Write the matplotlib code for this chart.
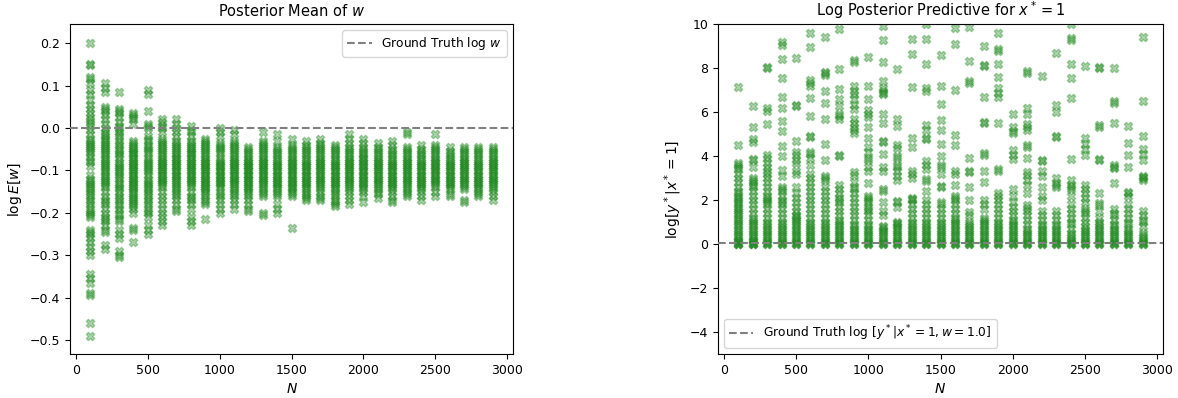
import matplotlib
matplotlib.use("Agg")
import matplotlib.pyplot as plt
import numpy as np

# ---------------- data ----------------
N_values = [100, 200, 300, 400, 500, 600, 700, 800, 900, 1000, 1100, 1200, 1300, 1400,
            1500, 1600, 1700, 1800, 1900, 2000, 2100, 2200, 2300, 2400, 2500, 2600,
            2700, 2800, 2900]

# log E[w] samples per N
w100 = [0.20, 0.15, 0.148, 0.12, 0.115, 0.105, 0.09, 0.08, 0.065, 0.055, 0.045, 0.035, 0.025, 0.018, 0.012, 0.005,
        -0.005, -0.015, -0.025, -0.03, -0.035, -0.04, -0.045, -0.05, -0.055, -0.06, -0.068, -0.075, -0.08, -0.09,
        -0.11, -0.12, -0.125, -0.13, -0.135, -0.14, -0.145, -0.15, -0.155, -0.16, -0.17, -0.175, -0.18, -0.19,
        -0.195, -0.2, -0.205, -0.21, -0.24, -0.245, -0.25, -0.26, -0.27, -0.28, -0.29, -0.3, -0.345, -0.355,
        -0.365, -0.39, -0.395, -0.46, -0.49]
w200 = [0.105, 0.095, 0.085, 0.05, 0.045, 0.04, 0.03, 0.02, 0.01, 0.0, -0.01, -0.015, -0.02, -0.025, -0.03, -0.035,
        -0.04, -0.045, -0.05, -0.055, -0.06, -0.065, -0.07, -0.075, -0.08, -0.085, -0.09, -0.095, -0.1, -0.105,
        -0.11, -0.115, -0.12, -0.125, -0.13, -0.135, -0.14, -0.15, -0.16, -0.17, -0.175, -0.18, -0.19, -0.2,
        -0.21, -0.215, -0.22, -0.23, -0.24, -0.245, -0.275, -0.285]
w300 = [0.085, 0.045, 0.04, 0.035, 0.025, 0.015, 0.005, 0.0, -0.01, -0.015, -0.02, -0.03, -0.035, -0.04, -0.05,
        -0.055, -0.06, -0.065, -0.07, -0.08, -0.085, -0.09, -0.095, -0.1, -0.105, -0.11, -0.115, -0.12, -0.13,
        -0.135, -0.14, -0.145, -0.15, -0.16, -0.165, -0.17, -0.18, -0.185, -0.19, -0.2, -0.205, -0.215, -0.22,
        -0.24, -0.25, -0.26, -0.29, -0.3, -0.305]
w400 = [0.035, 0.03, 0.025, 0.02, 0.01, -0.03, -0.035, -0.04, -0.045, -0.05, -0.055, -0.06, -0.065, -0.07, -0.075,
        -0.08, -0.085, -0.09, -0.095, -0.1, -0.105, -0.11, -0.115, -0.12, -0.125, -0.13, -0.135, -0.14, -0.145,
        -0.15, -0.155, -0.16, -0.165, -0.17, -0.175, -0.18, -0.185, -0.19, -0.2, -0.235, -0.24, -0.27, -0.06,
        -0.08, -0.1, -0.12, -0.14]
w500 = [0.09, 0.08, 0.04, 0.01, 0.005, 0.0, -0.02, -0.025, -0.03, -0.04, -0.045, -0.05, -0.055, -0.06, -0.07,
        -0.075, -0.08, -0.085, -0.09, -0.095, -0.1, -0.105, -0.11, -0.12, -0.125, -0.13, -0.135, -0.14, -0.145,
        -0.15, -0.155, -0.16, -0.17, -0.175, -0.18, -0.19, -0.195, -0.2, -0.21, -0.23, -0.24, -0.25]
w600 = [0.02, 0.015, 0.005, 0.0, -0.01, -0.025, -0.03, -0.035, -0.04, -0.045, -0.05, -0.055, -0.06, -0.065, -0.07,
        -0.075, -0.08, -0.085, -0.09, -0.095, -0.1, -0.105, -0.11, -0.115, -0.12, -0.125, -0.13, -0.135, -0.14,
        -0.15, -0.16, -0.17, -0.18, -0.19, -0.2, -0.21, -0.22, -0.23, -0.08, -0.1, -0.12]
w700 = [0.02, 0.01, 0.0, -0.01, -0.02, -0.03, -0.035, -0.04, -0.045, -0.05, -0.055, -0.06, -0.065, -0.07, -0.075,
        -0.08, -0.085, -0.09, -0.095, -0.1, -0.105, -0.11, -0.115, -0.12, -0.125, -0.13, -0.135, -0.14, -0.145,
        -0.15, -0.155, -0.16, -0.17, -0.18, -0.19, -0.195, -0.07, -0.09, -0.11]
w800 = [0.005, -0.005, -0.01, -0.02, -0.03, -0.035, -0.04, -0.045, -0.05, -0.055, -0.06, -0.065, -0.07, -0.075,
        -0.08, -0.085, -0.09, -0.095, -0.1, -0.105, -0.11, -0.115, -0.12, -0.125, -0.13, -0.135, -0.14, -0.15,
        -0.16, -0.165, -0.17, -0.18, -0.19, -0.21, -0.22, -0.23, -0.06, -0.08, -0.1, -0.12]
w900 = [-0.025, -0.03, -0.035, -0.04, -0.045, -0.05, -0.055, -0.06, -0.065, -0.07, -0.075, -0.08, -0.085, -0.09,
        -0.095, -0.1, -0.105, -0.11, -0.115, -0.12, -0.125, -0.13, -0.135, -0.14, -0.145, -0.15, -0.155, -0.16,
        -0.17, -0.175, -0.18, -0.215, -0.08, -0.1, -0.12, -0.14]
w1000 = [0.0, -0.01, -0.02, -0.035, -0.04, -0.045, -0.05, -0.055, -0.06, -0.07, -0.075, -0.08, -0.085, -0.09,
         -0.095, -0.1, -0.105, -0.11, -0.115, -0.12, -0.125, -0.13, -0.135, -0.14, -0.15, -0.155, -0.16, -0.17,
         -0.18, -0.19, -0.2, -0.09, -0.11, -0.13]
w1100 = [-0.005, -0.015, -0.03, -0.035, -0.04, -0.045, -0.05, -0.055, -0.06, -0.065, -0.07, -0.075, -0.08, -0.085,
         -0.09, -0.095, -0.1, -0.105, -0.11, -0.115, -0.12, -0.125, -0.13, -0.135, -0.14, -0.145, -0.15, -0.155,
         -0.16, -0.17, -0.18, -0.19, -0.08, -0.1, -0.12]
w1200 = [-0.045, -0.05, -0.055, -0.06, -0.065, -0.07, -0.075, -0.08, -0.085, -0.09, -0.095, -0.1, -0.105, -0.11,
         -0.115, -0.12, -0.125, -0.13, -0.135, -0.14, -0.145, -0.15, -0.155, -0.16, -0.17, -0.18, -0.19, -0.195,
         -0.08, -0.1, -0.12, -0.14, -0.09, -0.11]
w1300 = [-0.01, -0.03, -0.035, -0.04, -0.045, -0.05, -0.055, -0.06, -0.065, -0.07, -0.075, -0.08, -0.085, -0.09,
         -0.095, -0.1, -0.105, -0.11, -0.115, -0.12, -0.125, -0.13, -0.135, -0.14, -0.145, -0.15, -0.155, -0.16,
         -0.2, -0.205, -0.08, -0.1, -0.12]
w1400 = [-0.015, -0.03, -0.045, -0.05, -0.055, -0.06, -0.065, -0.07, -0.075, -0.08, -0.085, -0.09, -0.095, -0.1,
         -0.105, -0.11, -0.115, -0.12, -0.125, -0.13, -0.135, -0.14, -0.145, -0.15, -0.155, -0.16, -0.18, -0.19,
         -0.2, -0.09, -0.11, -0.13]
w1500 = [-0.025, -0.04, -0.045, -0.05, -0.055, -0.06, -0.065, -0.07, -0.075, -0.08, -0.085, -0.09, -0.095, -0.1,
         -0.105, -0.11, -0.115, -0.12, -0.125, -0.13, -0.135, -0.14, -0.145, -0.15, -0.155, -0.16, -0.235, -0.08,
         -0.1, -0.12, -0.14]
w1600 = [-0.03, -0.04, -0.045, -0.05, -0.055, -0.06, -0.065, -0.07, -0.075, -0.08, -0.085, -0.09, -0.095, -0.1,
         -0.105, -0.11, -0.115, -0.12, -0.125, -0.13, -0.135, -0.14, -0.145, -0.15, -0.155, -0.16, -0.165, -0.17,
         -0.09, -0.11, -0.13]
w1700 = [-0.025, -0.035, -0.04, -0.045, -0.05, -0.055, -0.06, -0.065, -0.07, -0.075, -0.08, -0.085, -0.09, -0.095,
         -0.1, -0.105, -0.11, -0.115, -0.12, -0.125, -0.13, -0.135, -0.14, -0.145, -0.15, -0.16, -0.165, -0.17,
         -0.08, -0.1, -0.12]
w1800 = [-0.04, -0.045, -0.05, -0.055, -0.06, -0.065, -0.07, -0.075, -0.08, -0.085, -0.09, -0.095, -0.1, -0.105,
         -0.11, -0.115, -0.12, -0.125, -0.13, -0.135, -0.14, -0.145, -0.15, -0.155, -0.16, -0.17, -0.175, -0.18,
         -0.185, -0.09, -0.11, -0.13]
w1900 = [-0.015, -0.025, -0.035, -0.045, -0.05, -0.055, -0.06, -0.065, -0.07, -0.075, -0.08, -0.085, -0.09, -0.095,
         -0.1, -0.105, -0.11, -0.115, -0.12, -0.125, -0.13, -0.135, -0.14, -0.145, -0.15, -0.16, -0.17, -0.18,
         -0.08, -0.1, -0.12]
w2000 = [-0.025, -0.035, -0.045, -0.05, -0.055, -0.06, -0.065, -0.07, -0.075, -0.08, -0.085, -0.09, -0.095, -0.1,
         -0.105, -0.11, -0.115, -0.12, -0.125, -0.13, -0.135, -0.14, -0.145, -0.15, -0.16, -0.175, -0.07, -0.09,
         -0.11, -0.13]
w2100 = [-0.035, -0.045, -0.05, -0.055, -0.06, -0.065, -0.07, -0.075, -0.08, -0.085, -0.09, -0.095, -0.1, -0.105,
         -0.11, -0.115, -0.12, -0.125, -0.13, -0.135, -0.14, -0.145, -0.15, -0.155, -0.165, -0.08, -0.1, -0.12]
w2200 = [-0.03, -0.04, -0.05, -0.055, -0.06, -0.065, -0.07, -0.075, -0.08, -0.085, -0.09, -0.095, -0.1, -0.105,
         -0.11, -0.115, -0.12, -0.125, -0.13, -0.135, -0.14, -0.145, -0.15, -0.16, -0.17, -0.175, -0.09, -0.11,
         -0.13]
w2300 = [-0.01, -0.015, -0.045, -0.05, -0.055, -0.06, -0.065, -0.07, -0.075, -0.08, -0.085, -0.09, -0.095, -0.1,
         -0.105, -0.11, -0.115, -0.12, -0.125, -0.13, -0.135, -0.14, -0.145, -0.15, -0.155, -0.16, -0.08, -0.1,
         -0.12]
w2400 = [-0.04, -0.05, -0.055, -0.06, -0.065, -0.07, -0.075, -0.08, -0.085, -0.09, -0.095, -0.1, -0.105, -0.11,
         -0.115, -0.12, -0.125, -0.13, -0.135, -0.14, -0.145, -0.15, -0.16, -0.17, -0.09, -0.11, -0.13]
w2500 = [-0.015, -0.04, -0.045, -0.05, -0.055, -0.06, -0.065, -0.07, -0.075, -0.08, -0.085, -0.09, -0.095, -0.1,
         -0.105, -0.11, -0.115, -0.12, -0.125, -0.13, -0.135, -0.14, -0.15, -0.16, -0.08, -0.1, -0.12]
w2600 = [-0.045, -0.055, -0.06, -0.065, -0.07, -0.075, -0.08, -0.085, -0.09, -0.095, -0.1, -0.105, -0.11, -0.115,
         -0.12, -0.125, -0.13, -0.135, -0.14, -0.145, -0.155, -0.16, -0.09, -0.11, -0.13]
w2700 = [-0.045, -0.05, -0.055, -0.06, -0.065, -0.07, -0.075, -0.08, -0.085, -0.09, -0.095, -0.1, -0.105, -0.11,
         -0.115, -0.12, -0.125, -0.13, -0.135, -0.14, -0.145, -0.17, -0.175, -0.08, -0.1, -0.12]
w2800 = [-0.045, -0.05, -0.055, -0.06, -0.065, -0.07, -0.075, -0.08, -0.085, -0.09, -0.095, -0.1, -0.105, -0.11,
         -0.115, -0.12, -0.125, -0.13, -0.135, -0.14, -0.145, -0.15, -0.155, -0.16, -0.09, -0.11, -0.13]
w2900 = [-0.045, -0.05, -0.055, -0.06, -0.065, -0.07, -0.075, -0.08, -0.085, -0.09, -0.095, -0.1, -0.105, -0.11,
         -0.115, -0.12, -0.125, -0.13, -0.135, -0.14, -0.145, -0.15, -0.16, -0.17, -0.08, -0.1, -0.12]

log_w_cols = [w100, w200, w300, w400, w500, w600, w700, w800, w900, w1000, w1100, w1200, w1300, w1400,
              w1500, w1600, w1700, w1800, w1900, w2000, w2100, w2200, w2300, w2400, w2500, w2600,
              w2700, w2800, w2900]

# log posterior predictive samples per N
p100 = [7.15, 4.5, 3.7, 3.6, 3.5, 3.4, 3.2, 3.0, 2.8, 2.6, 2.4, 2.3, 2.2, 2.1, 2.0, 1.9, 1.8, 1.7, 1.6, 1.5, 1.4,
        1.3, 1.2, 1.1, 1.0, 0.9, 0.8, 0.7, 0.6, 0.5, 0.4, 0.3, 0.2, 0.15, 0.1, 0.05, 0.02, 0.0, 0.0]
p200 = [6.25, 5.3, 4.75, 4.65, 3.85, 3.8, 3.5, 3.0, 2.9, 2.8, 2.7, 2.6, 2.4, 2.2, 2.0, 1.8, 1.6, 1.4, 1.2, 1.1,
        1.0, 0.9, 0.8, 0.7, 0.6, 0.5, 0.4, 0.3, 0.2, 0.15, 0.1, 0.05, 0.02, 0.0, 0.0]
p300 = [8.05, 8.0, 6.2, 6.05, 5.45, 4.05, 3.9, 3.7, 3.5, 3.3, 3.2, 3.0, 2.8, 2.6, 2.4, 2.2, 2.1, 2.0, 1.9, 1.8,
        1.6, 1.4, 1.2, 1.0, 0.9, 0.8, 0.7, 0.6, 0.5, 0.4, 0.3, 0.2, 0.1, 0.05, 0.0, 0.0]
p400 = [9.2, 9.05, 8.4, 7.55, 6.7, 6.2, 5.6, 5.15, 4.45, 4.0, 3.35, 3.1, 2.6, 2.5, 2.4, 2.2, 2.0, 1.9, 1.8, 1.6,
        1.4, 1.2, 1.0, 0.9, 0.8, 0.7, 0.6, 0.5, 0.4, 0.3, 0.2, 0.1, 0.05, 0.0, 0.0]
p500 = [8.45, 6.3, 6.25, 4.7, 4.2, 4.05, 3.8, 3.7, 3.3, 3.2, 2.6, 2.3, 2.1, 1.9, 1.7, 1.5, 1.3, 1.25, 1.2, 1.1,
        1.0, 0.9, 0.8, 0.7, 0.6, 0.5, 0.4, 0.3, 0.2, 0.1, 0.05, 0.0, 0.0]
p600 = [9.6, 8.95, 7.45, 7.3, 7.2, 6.65, 5.8, 4.9, 4.85, 4.2, 4.1, 3.9, 3.6, 3.2, 3.0, 2.8, 2.6, 2.4, 2.2, 2.0,
        1.8, 1.6, 1.4, 1.2, 1.0, 0.9, 0.8, 0.7, 0.6, 0.5, 0.4, 0.3, 0.2, 0.1, 0.05, 0.0, 0.0]
p700 = [9.4, 7.8, 7.75, 7.7, 6.95, 6.4, 5.7, 4.55, 3.8, 3.1, 3.0, 2.9, 2.6, 2.4, 2.2, 2.0, 1.8, 1.6, 1.4, 1.2,
        1.0, 0.9, 0.8, 0.7, 0.6, 0.5, 0.4, 0.3, 0.2, 0.1, 0.05, 0.0, 0.0]
p800 = [9.75, 7.95, 7.05, 6.6, 6.25, 5.9, 5.8, 5.7, 4.05, 4.0, 2.7, 2.5, 2.3, 2.1, 2.0, 1.9, 1.7, 1.5, 1.3, 1.1,
        1.0, 0.9, 0.8, 0.7, 0.6, 0.5, 0.4, 0.3, 0.2, 0.1, 0.05, 0.0, 0.0]
p900 = [8.35, 8.25, 7.2, 6.95, 6.8, 6.6, 6.3, 6.15, 5.7, 5.5, 5.3, 5.2, 5.05, 3.25, 3.15, 2.8, 2.6, 2.5, 2.3,
        2.1, 1.9, 1.7, 1.5, 1.3, 1.1, 0.9, 0.8, 0.7, 0.6, 0.5, 0.4, 0.3, 0.2, 0.1, 0.05, 0.0, 0.0]
p1000 = [8.5, 7.2, 6.6, 6.1, 5.9, 5.75, 5.3, 4.8, 4.4, 4.2, 3.9, 3.8, 3.5, 3.3, 2.75, 2.2, 2.1, 2.0, 1.9, 1.7,
         1.6, 1.5, 1.3, 1.1, 0.9, 0.8, 0.7, 0.6, 0.5, 0.4, 0.3, 0.2, 0.1, 0.05, 0.0, 0.0]
p1100 = [9.9, 9.25, 8.25, 7.4, 7.1, 6.95, 6.85, 6.8, 5.9, 5.5, 4.7, 4.65, 4.1, 3.5, 3.3, 2.5, 2.4, 1.9, 1.5, 1.3,
         0.8, 0.75, 0.7, 0.6, 0.5, 0.4, 0.3, 0.2, 0.1, 0.05, 0.0, 0.0]
p1200 = [7.95, 5.7, 5.35, 4.5, 4.35, 4.0, 3.9, 3.6, 3.5, 3.3, 3.1, 2.9, 1.95, 1.9, 1.7, 1.0, 0.95, 0.9, 0.8, 0.7,
         0.6, 0.5, 0.4, 0.3, 0.2, 0.1, 0.05, 0.0, 0.0]
p1300 = [9.3, 8.65, 7.15, 4.8, 4.4, 3.3, 3.2, 3.0, 2.1, 2.05, 2.0, 1.8, 1.6, 1.4, 1.2, 1.0, 0.9, 0.8, 0.7, 0.6,
         0.5, 0.4, 0.3, 0.2, 0.1, 0.05, 0.0, 0.0]
p1400 = [10.0, 9.3, 8.2, 7.1, 6.95, 5.4, 5.2, 4.8, 4.75, 3.75, 3.6, 3.4, 2.95, 2.85, 2.4, 2.0, 1.8, 1.6, 1.4,
         1.2, 1.0, 0.9, 0.8, 0.7, 0.6, 0.5, 0.4, 0.3, 0.2, 0.1, 0.05, 0.0, 0.0]
p1500 = [8.6, 7.2, 6.35, 5.65, 5.2, 4.55, 4.0, 3.6, 3.5, 3.2, 2.65, 2.6, 1.9, 1.8, 1.6, 1.4, 1.2, 1.0, 0.9, 0.8,
         0.7, 0.6, 0.5, 0.4, 0.3, 0.2, 0.1, 0.05, 0.0, 0.0]
p1600 = [9.8, 9.1, 7.0, 4.95, 4.5, 3.3, 3.2, 2.7, 2.2, 2.1, 2.0, 1.8, 1.6, 1.4, 1.2, 1.1, 1.0, 0.9, 0.8, 0.7,
         0.6, 0.5, 0.4, 0.3, 0.2, 0.1, 0.05, 0.0, 0.0]
p1700 = [9.85, 8.3, 7.4, 7.3, 3.9, 3.3, 3.25, 2.6, 2.0, 1.45, 1.3, 1.0, 0.9, 0.8, 0.7, 0.6, 0.5, 0.4, 0.3, 0.2,
         0.1, 0.05, 0.0, 0.0]
p1800 = [9.0, 8.15, 8.1, 6.7, 5.55, 5.5, 4.15, 4.05, 3.3, 2.8, 2.0, 1.8, 1.6, 1.2, 1.1, 1.0, 0.9, 0.8, 0.7, 0.6,
         0.5, 0.4, 0.3, 0.2, 0.1, 0.05, 0.0, 0.0]
p1900 = [9.6, 8.85, 8.75, 8.2, 7.6, 7.1, 6.85, 6.7, 5.5, 3.4, 3.3, 2.3, 2.2, 2.0, 1.8, 1.6, 1.4, 1.2, 1.0, 0.9,
         0.8, 0.7, 0.6, 0.5, 0.4, 0.3, 0.2, 0.1, 0.05, 0.0, 0.0]
p2000 = [5.9, 5.3, 5.15, 5.05, 4.25, 4.05, 3.85, 2.5, 2.2, 1.9, 1.7, 1.5, 1.3, 1.1, 1.0, 0.9, 0.8, 0.7, 0.6, 0.5,
         0.4, 0.3, 0.2, 0.1, 0.05, 0.0, 0.0]
p2100 = [7.85, 7.75, 6.2, 5.9, 5.45, 5.3, 5.2, 4.5, 4.4, 3.9, 3.25, 3.15, 2.9, 2.7, 2.3, 1.75, 1.65, 1.5, 1.3,
         1.1, 0.9, 0.7, 0.6, 0.5, 0.4, 0.3, 0.2, 0.1, 0.05, 0.0, 0.0]
p2200 = [7.65, 3.8, 3.75, 3.3, 3.1, 2.6, 2.2, 2.0, 1.5, 1.3, 1.1, 0.9, 0.8, 0.7, 0.6, 0.5, 0.4, 0.3, 0.2, 0.1,
         0.05, 0.0, 0.0]
p2300 = [8.7, 6.3, 6.0, 4.9, 4.85, 3.0, 2.75, 2.7, 2.6, 1.5, 1.3, 1.1, 0.9, 0.8, 0.7, 0.6, 0.5, 0.4, 0.3, 0.2,
         0.1, 0.05, 0.0, 0.0]
p2400 = [10.0, 9.35, 9.25, 8.2, 7.55, 6.65, 3.85, 2.9, 2.7, 2.6, 2.5, 2.2, 1.8, 1.6, 1.4, 1.2, 1.0, 0.9, 0.7,
         0.5, 0.4, 0.3, 0.2, 0.1, 0.05, 0.0, 0.0]
p2500 = [8.1, 4.8, 4.55, 4.3, 4.05, 2.7, 2.5, 2.3, 2.1, 1.9, 1.6, 1.5, 1.4, 1.2, 1.0, 0.8, 0.7, 0.6, 0.5, 0.4,
         0.3, 0.2, 0.1, 0.05, 0.0, 0.0]
p2600 = [8.05, 8.0, 5.4, 5.3, 3.85, 3.8, 2.3, 1.85, 1.75, 1.5, 1.2, 1.0, 0.9, 0.8, 0.7, 0.6, 0.5, 0.4, 0.3, 0.2,
         0.1, 0.05, 0.0, 0.0]
p2700 = [8.0, 6.5, 6.4, 5.5, 3.6, 3.5, 3.45, 2.75, 1.6, 1.4, 1.3, 1.1, 0.9, 0.8, 0.7, 0.6, 0.5, 0.4, 0.3, 0.2,
         0.1, 0.05, 0.0, 0.0]
p2800 = [5.35, 4.6, 4.05, 3.5, 2.35, 2.3, 2.2, 1.8, 1.6, 1.4, 1.2, 1.0, 0.9, 0.7, 0.6, 0.5, 0.4, 0.3, 0.2, 0.1,
         0.05, 0.0, 0.0]
p2900 = [9.4, 6.5, 4.9, 4.3, 4.1, 3.8, 3.1, 3.05, 3.0, 2.9, 1.5, 1.3, 1.1, 1.0, 0.8, 0.5, 0.4, 0.3, 0.2, 0.1,
         0.05, 0.0, 0.0]

log_pred_cols = [p100, p200, p300, p400, p500, p600, p700, p800, p900, p1000, p1100, p1200, p1300, p1400,
                 p1500, p1600, p1700, p1800, p1900, p2000, p2100, p2200, p2300, p2400, p2500, p2600,
                 p2700, p2800, p2900]

truth_log_w = 0.0
truth_log_pred = 0.03

# ---------------- plot ----------------
plt.rcParams['font.family'] = ['DejaVu Sans']
plt.rcParams['mathtext.fontset'] = 'dejavusans'

W, H = 1178, 398
fig = plt.figure(figsize=(W / 100, H / 100), dpi=100)
ax1 = fig.add_axes([70 / W, 1 - 354 / H, 443 / W, 330 / H])
ax2 = fig.add_axes([718 / W, 1 - 354 / H, 445 / W, 330 / H])

green = '#228B22'
msize = 36
alpha = 0.38

for n, col in zip(N_values, log_w_cols):
    ax1.scatter(np.full(len(col), n), col, marker='X', s=msize, color=green, alpha=alpha,
                linewidths=1.0, zorder=2)
for n, col in zip(N_values, log_pred_cols):
    ax2.scatter(np.full(len(col), n), col, marker='X', s=msize, color=green, alpha=alpha,
                linewidths=1.0, zorder=2)

ax1.axhline(truth_log_w, color='grey', linestyle='--', linewidth=1.5,
            label='Ground Truth log $w$', zorder=3)
ax2.axhline(truth_log_pred, color='grey', linestyle='--', linewidth=1.5,
            label='Ground Truth log $[y^*|x^*=1, w=1.0]$', zorder=3)

fs_tick = 9
fs_label = 10
fs_title = 10.5
fs_leg = 8.8

ax1.set_xlim(-40, 3040)
ax1.set_ylim(-0.533, 0.245)
ax1.set_yticks([-0.5, -0.4, -0.3, -0.2, -0.1, 0.0, 0.1, 0.2])
ax1.set_xticks([0, 500, 1000, 1500, 2000, 2500, 3000])
ax1.set_title('Posterior Mean of $w$', fontsize=fs_title)
ax1.set_xlabel('$N$', fontsize=fs_label)
ax1.set_ylabel(r'$\log E[w]$', fontsize=fs_label)
ax1.legend(loc='upper right', fontsize=fs_leg)

ax2.set_xlim(-40, 3040)
ax2.set_ylim(-5, 10)
ax2.set_yticks([-4, -2, 0, 2, 4, 6, 8, 10])
ax2.set_xticks([0, 500, 1000, 1500, 2000, 2500, 3000])
ax2.set_title('Log Posterior Predictive for $x^*=1$', fontsize=fs_title)
ax2.set_xlabel('$N$', fontsize=fs_label)
ax2.set_ylabel(r'$\log [y^*|x^*=1]$', fontsize=fs_label)
ax2.legend(loc='lower left', fontsize=fs_leg)

for ax in (ax1, ax2):
    ax.tick_params(labelsize=fs_tick)

fig.savefig('out.png', dpi=100)
